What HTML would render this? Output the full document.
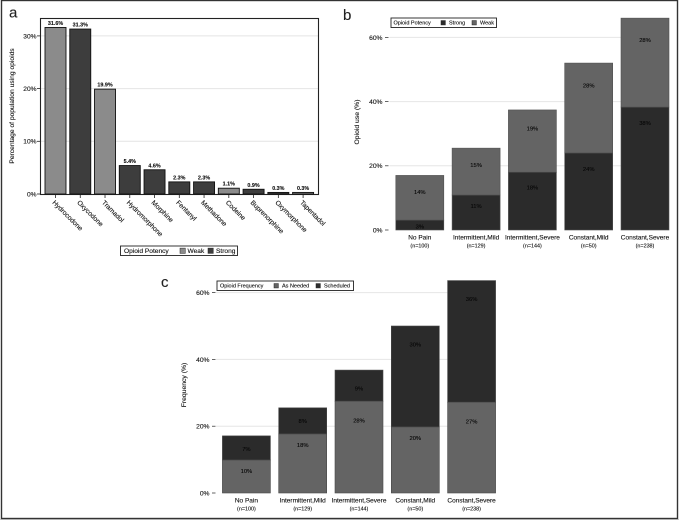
<!DOCTYPE html>
<html lang="en">
<head>
<meta charset="utf-8">
<title>Opioid use charts</title>
<style>
  html, body { margin: 0; padding: 0; background: #fff; }
  #figure { display: block; width: 679px; height: 520px; filter: blur(0.35px); font-family: "Liberation Sans", sans-serif; }
  #figure text { stroke: #111; stroke-width: 0.12px; }
</style>
</head>
<body>
<svg id="figure" xmlns="http://www.w3.org/2000/svg" width="679" height="520" viewBox="0 0 679 520"></svg>
<script>
// Panel a
const drugNames = ['Hydrocodone','Oxycodone','Tramadol','Hydromorphone','Morphine','Fentanyl','Methadone','Codeine','Buprenorphine','Oxymorphone','Tapentadol'];
const drugUse = [31.6,31.3,19.9,5.4,4.6,2.3,2.3,1.1,0.9,0.3,0.3];
const drugPotency = ['Weak','Strong','Weak','Strong','Strong','Strong','Strong','Weak','Strong','Strong','Weak'];
const drugTicks = [0,10,20,30];

// Shared categories for panels b and c
const painGroups = ['No Pain','Intermittent, Mild','Intermittent, Severe','Constant, Mild','Constant, Severe'];
const painCounts = ['(n=100)','(n=129)','(n=144)','(n=50)','(n=238)'];
const percentTicks = [0,20,40,60];

// Panel b
const strongUse = [3.1,10.9,18,24,38.3];
const weakUse = [13.9,14.6,19.4,28,27.7];

// Panel c
const asNeededUse = [9.9,17.7,27.5,19.8,27.2];
const scheduledUse = [7.2,7.8,9.3,30.2,36.4];

const svg = document.getElementById('figure');
const NS = 'http://www.w3.org/2000/svg';

function mk(tag, attrs, text) {
  const el = document.createElementNS(NS, tag);
  for (const k in attrs) el.setAttribute(k, attrs[k]);
  if (text !== undefined) el.textContent = text;
  svg.appendChild(el);
  return el;
}
function slug(s) { return s.toLowerCase().replace(/[^a-z0-9]+/g, '-'); }
function name(el, n) {
  
  
  return el;
}

// Image border
name(mk('rect', {x:0,y:519,width:679,height:1,fill:'#cfcfcf'}), 'bottom-strip');
name(mk('rect', {x:1.5,y:0.5,width:676,height:518,fill:'none',stroke:'#333','stroke-width':1.4}), 'figure-border');

// Panel letters
name(mk('text', {x:9,y:17.5,'font-size':15,fill:'#222'}, 'a'), 'panel-label-a');
name(mk('text', {x:343,y:20,'font-size':15,fill:'#222'}, 'b'), 'panel-label-b');
name(mk('text', {x:161,y:287,'font-size':15,fill:'#222'}, 'c'), 'panel-label-c');

// ---------- Panel a ----------
const aY = v => 194 - v * 5.27;
const aX = i => 55.5 + i * 24.76;
drugTicks.forEach(t => {
  if (t > 0) {
    name(mk('line', {x1:41,x2:318,y1:aY(t),y2:aY(t),stroke:'#e4e4e4','stroke-width':1}), 'a-gridline-' + t);
  }
  name(mk('line', {x1:37,x2:40.5,y1:aY(t),y2:aY(t),stroke:'#222','stroke-width':0.8}), 'a-y-tick-' + t);
  name(mk('text', {x:36.5,y:aY(t)+2.4,'text-anchor':'end','font-size':6.6,fill:'#111'}, t + '%'), 'a-y-tick-label-' + t);
});
name(mk('rect', {x:40.5,y:18.5,width:278,height:176,fill:'none',stroke:'#222','stroke-width':1.1}), 'a-plot-frame');
drugNames.forEach((d, i) => {
  const v = drugUse[i];
  const fill = drugPotency[i] === 'Weak' ? '#8b8b8b' : '#3d3d3d';
  const cx = aX(i);
  name(mk('rect', {x:cx-10.5,y:aY(v),width:21,height:194-aY(v),fill:fill,stroke:'#111','stroke-width':0.9}), 'a-bar-' + slug(d));
  name(mk('text', {x:cx,y:aY(v)-2.5,'text-anchor':'middle','font-size':5.4,'font-weight':'bold',fill:'#111'}, v.toFixed(1) + '%'), 'a-value-' + slug(d));
  name(mk('line', {x1:cx,x2:cx,y1:194.5,y2:198,stroke:'#222','stroke-width':0.8}), 'a-x-tick-' + slug(d));
  name(mk('text', {x:cx-3.5,y:203,'font-size':6.7,fill:'#111',transform:'rotate(45 ' + (cx-3.5) + ' 203)'}, d), 'a-x-label-' + slug(d));
});
name(mk('text', {x:14,y:106,'text-anchor':'middle','font-size':6.7,fill:'#111',transform:'rotate(-90 14 106)'}, 'Percentage of population using opioids'), 'a-y-axis-title');

function legend(prefix, box, title, titleX, items, size) {
  name(mk('rect', {x:box[0],y:box[1],width:box[2],height:box[3],fill:'#fff',stroke:'#222','stroke-width':0.9}), prefix + '-legend-box');
  const base = box[1] + box[3] / 2 + size * 0.36;
  name(mk('text', {x:titleX,y:base,'font-size':size,fill:'#111'}, title), prefix + '-legend-title');
  items.forEach(it => {
    const sw = size * 0.8;
    name(mk('rect', {x:it.sx,y:box[1]+box[3]/2-sw/2,width:sw,height:sw,fill:it.fill,stroke:'#222','stroke-width':0.5}), prefix + '-legend-swatch-' + slug(it.label));
    name(mk('text', {x:it.tx,y:base,'font-size':size,fill:'#111'}, it.label), prefix + '-legend-entry-' + slug(it.label));
  });
}
legend('a', [120.5,246,117,9.5], 'Opioid Potency', 124, [
  {label:'Weak',fill:'#8b8b8b',sx:180,tx:187.5},
  {label:'Strong',fill:'#3d3d3d',sx:208,tx:216}
], 6.6);

// ---------- Stacked panels ----------
function stacked(cfg) {
  const y = v => cfg.zero - v * cfg.scale;
  const x = i => cfg.firstX + i * 56.3;
  percentTicks.forEach(t => {
    if (t > 0) {
      name(mk('line', {x1:cfg.gridStart,x2:cfg.gridEnd,y1:y(t),y2:y(t),stroke:'#e6e6e6','stroke-width':1}), cfg.id + '-gridline-' + t);
    }
    name(mk('line', {x1:cfg.tickX,x2:cfg.tickX+3.5,y1:y(t),y2:y(t),stroke:'#222','stroke-width':0.7}), cfg.id + '-y-tick-' + t);
    name(mk('text', {x:cfg.tickX-2.5,y:y(t)+2.4,'text-anchor':'end','font-size':6.7,fill:'#111'}, t + '%'), cfg.id + '-y-tick-label-' + t);
  });
  painGroups.forEach((g, i) => {
    const lo = cfg.lower[i], hi = cfg.upper[i], left = x(i);
    const topLow = y(lo), topAll = y(lo + hi);
    name(mk('rect', {x:left,y:topLow,width:48,height:cfg.zero-topLow,fill:cfg.lowerFill,stroke:cfg.stroke,'stroke-width':0.6}), cfg.id + '-bar-' + cfg.lowerName + '-' + slug(g));
    name(mk('rect', {x:left,y:topAll,width:48,height:topLow-topAll,fill:cfg.upperFill,stroke:cfg.stroke,'stroke-width':0.6}), cfg.id + '-bar-' + cfg.upperName + '-' + slug(g));
    name(mk('text', {x:left+24,y:topLow+cfg.lowerOffset(lo)+2,'text-anchor':'middle','font-size':5.8,fill:'#000'}, Math.round(lo) + '%'), cfg.id + '-value-' + cfg.lowerName + '-' + slug(g));
    name(mk('text', {x:left+24,y:topAll+cfg.upperOffset(hi)+2,'text-anchor':'middle','font-size':5.8,fill:'#000'}, Math.round(hi) + '%'), cfg.id + '-value-' + cfg.upperName + '-' + slug(g));
    name(mk('text', {x:left+24,y:cfg.catY,'text-anchor':'middle','font-size':6.5,fill:'#111'}, g.replace(', ', ',')), cfg.id + '-x-label-' + slug(g));
    name(mk('text', {x:left+24,y:cfg.catY+7.8,'text-anchor':'middle','font-size':5.4,fill:'#111'}, painCounts[i]), cfg.id + '-x-count-' + slug(g));
  });
  name(mk('text', {x:cfg.titleX,y:cfg.titleY,'text-anchor':'middle','font-size':6.8,fill:'#111',transform:'rotate(-90 ' + cfg.titleX + ' ' + cfg.titleY + ')'}, cfg.title), cfg.id + '-y-axis-title');
}

stacked({
  id:'b', zero:230, scale:3.21, firstX:395.8, gridStart:389.5, gridEnd:669, tickX:385,
  lower:strongUse, upper:weakUse, lowerName:'strong', upperName:'weak',
  lowerFill:'#2b2b2b', upperFill:'#646464', stroke:'#505050',
  lowerOffset:v => Math.min(16, 4.5 + v * 0.6),
  upperOffset:v => 11 + v * 0.4,
  catY:239.5, titleX:359, titleY:122, title:'Opioid use (%)'
});
legend('b', [391,18,105.5,9.5], 'Opioid Potency', 393.5, [
  {label:'Strong',fill:'#2b2b2b',sx:441,tx:449},
  {label:'Weak',fill:'#646464',sx:472,tx:480}
], 5.5);

stacked({
  id:'c', zero:493, scale:3.34, firstX:222.4, gridStart:216, gridEnd:495.5, tickX:212,
  lower:asNeededUse, upper:scheduledUse, lowerName:'as-needed', upperName:'scheduled',
  lowerFill:'#646464', upperFill:'#2b2b2b', stroke:'#484848',
  lowerOffset:v => v >= 25 ? 19.5 : 11,
  upperOffset:v => v < 8.5 ? 13 : 18.5,
  catY:502.5, titleX:186, titleY:385, title:'Frequency (%)'
});
legend('c', [217,281,136.5,9.5], 'Opioid Frequency', 220, [
  {label:'As Needed',fill:'#646464',sx:274,tx:282},
  {label:'Scheduled',fill:'#2b2b2b',sx:316,tx:324}
], 5.5);
</script>
</body>
</html>
